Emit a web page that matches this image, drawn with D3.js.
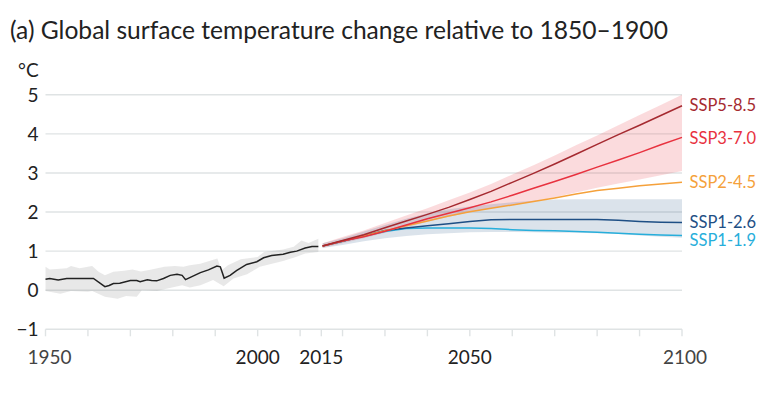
<!DOCTYPE html>
<html><head><meta charset="utf-8">
<script src="https://cdn.jsdelivr.net/npm/d3@7"></script>
<style>html,body{margin:0;padding:0;background:#fff}svg{display:block;font-family:Lato,sans-serif}</style>
</head><body><div id="chart"></div>
<script>
const yTicks=[-1,0,1,2,3,4,5];
const xTickYears=[1950,1960,1970,1980,1990,2000,2010,2015,2020,2030,2040,2050,2060,2070,2080,2090,2100];
const xLabels=[1950,2000,2015,2050,2100];
const histLine=[[1950,.28],[1951,.30],[1953,.26],[1955,.30],[1961.3,.30],[1964,.09],[1965,.12],[1966,.17],[1967.5,.18],[1970,.25],[1971.5,.25],[1972.3,.22],[1974,.27],[1975,.25],[1976.2,.24],[1977.8,.30],[1979.4,.38],[1981,.41],[1982.2,.38],[1983,.27],[1986.5,.45],[1988.4,.52],[1990.4,.62],[1991.2,.60],[1992.1,.31],[1993.5,.38],[1995,.50],[1997.4,.66],[1999.8,.73],[2001.4,.83],[2003.3,.89],[2006,.92],[2007.7,.97],[2009.2,1.0],[2011.2,1.08],[2012.8,1.12],[2014.3,1.12]];
const histUpper=[[1950,.60],[1951,.53],[1955,.56],[1956,.62],[1958,.56],[1961,.62],[1962.5,.47],[1964,.38],[1966,.47],[1968.5,.50],[1970.5,.53],[1972.5,.48],[1975,.53],[1978,.60],[1980.5,.62],[1982.5,.60],[1984,.64],[1986.5,.68],[1990.5,.81],[1991.5,.51],[1993,.64],[1996,.79],[2000,.85],[2001.5,.98],[2006,1.04],[2008.5,1.11],[2010.3,1.27],[2012,1.21],[2014.3,1.32]];
const histLower=[[1950,-.02],[1953.5,-.09],[1956,-.02],[1960,-.04],[1961,-.02],[1964,-.17],[1967,-.22],[1969,-.15],[1971.5,-.17],[1972.7,0],[1976.3,-.02],[1978.5,.04],[1982.2,.13],[1984,.07],[1986.5,.13],[1989.5,.26],[1992,.10],[1994.3,.30],[1997.5,.41],[2000.5,.60],[2006,.75],[2009,.85],[2011.2,.94],[2014.3,.98]];
const years=[2015.3,2020,2025,2030,2035,2040,2045,2050,2055,2060,2065,2070,2075,2080,2085,2090,2095,2100];
const ssp585=[1.13,1.27,1.42,1.60,1.77,1.94,2.12,2.32,2.53,2.76,2.99,3.23,3.48,3.73,3.98,4.22,4.47,4.72];
const ssp370=[1.13,1.26,1.37,1.51,1.67,1.83,1.97,2.11,2.26,2.43,2.61,2.78,2.96,3.15,3.33,3.52,3.72,3.91];
const ssp245=[1.13,1.26,1.39,1.52,1.65,1.77,1.90,2.01,2.10,2.18,2.27,2.36,2.46,2.55,2.61,2.67,2.72,2.76];
const ssp126=[1.13,1.25,1.39,1.53,1.59,1.65,1.70,1.76,1.80,1.81,1.81,1.81,1.81,1.81,1.79,1.76,1.74,1.73];
const ssp119=[1.13,1.25,1.38,1.50,1.58,1.59,1.59,1.59,1.58,1.55,1.53,1.52,1.50,1.48,1.46,1.43,1.41,1.40];
const pinkUpper=[1.20,1.36,1.53,1.72,1.91,2.10,2.30,2.50,2.72,2.96,3.20,3.45,3.71,3.96,4.22,4.48,4.74,5.00];
const pinkLower=[1.08,1.20,1.33,1.47,1.61,1.75,1.88,2.00,2.10,2.18,2.27,2.38,2.50,2.62,2.73,2.83,2.94,3.05];
const blueUpper=[1.20,1.33,1.50,1.67,1.83,1.97,2.07,2.14,2.20,2.25,2.29,2.32,2.33,2.33,2.33,2.33,2.33,2.33];
const blueLower=[1.08,1.16,1.25,1.33,1.39,1.43,1.46,1.48,1.49,1.49,1.48,1.47,1.47,1.46,1.44,1.40,1.37,1.34];
const seriesNames=["SSP5-8.5","SSP3-7.0","SSP2-4.5","SSP1-2.6","SSP1-1.9"];
const seriesData=[ssp585,ssp370,ssp245,ssp126,ssp119];
const seriesColors=["#a52a30","#e8323f","#f5a13b","#1e4f85","#27aedb"];
const labelY=[105,138,182,221.5,240];

const x=d3.scaleLinear().domain([1950,2100]).range([45.5,682]);
const y=d3.scaleLinear().domain([-1,5]).range([329.3,94.8]);
const svg=d3.select("#chart").append("svg").attr("width",768).attr("height",412);

svg.append("text").attr("x",10).attr("y",38.5).attr("font-size",24.6).attr("fill","#222")
  .text("(a) Global surface temperature change relative to 1850–1900");
svg.append("text").attr("x",18).attr("y",76.5).attr("font-size",19).attr("fill","#222").text("°C");

const gy=svg.append("g");
gy.selectAll("line").data(yTicks).join("line")
  .attr("x1",x(1950)).attr("x2",x(2100)).attr("y1",d=>y(d)).attr("y2",d=>y(d))
  .attr("stroke","#dfe3e4").attr("stroke-width",1.4);
gy.selectAll("text").data(yTicks).join("text")
  .attr("x",38.5).attr("y",d=>y(d)+7).attr("text-anchor","end").attr("font-size",19).attr("fill","#222")
  .text(d=>d<0?"−"+(-d):d);

const gx=svg.append("g");
gx.selectAll("line").data(xTickYears).join("line")
  .attr("x1",d=>x(d)).attr("x2",d=>x(d)).attr("y1",y(-1)).attr("y2",y(-1)+7)
  .attr("stroke","#dfe3e4").attr("stroke-width",1.4);
const labelAnchor=d=>d===1950?"start":d===2100?"end":"middle";
gx.selectAll("text").data(xLabels).join("text")
  .attr("x",d=>d===1950?x(d)-18:d===2100?x(d)+25:x(d)).attr("y",364).attr("font-size",19)
  .attr("text-anchor",labelAnchor).attr("fill",d=>(d===1950||d===2100)?"#444":"#222").text(d=>d);

const area=d3.area().x(d=>x(d[0])).y0(d=>y(d[1])).y1(d=>y(d[2]));
const line=d3.line().x(d=>x(d[0])).y(d=>y(d[1]));
const zip=(a,b)=>years.map((t,i)=>[t,a[i],b[i]]);

const histArea=[...histUpper.map(d=>[x(d[0]),y(d[1])]),...histLower.slice().reverse().map(d=>[x(d[0]),y(d[1])])];
svg.append("path").attr("d",d3.line()(histArea)+"Z").attr("fill","#8a8a8a").attr("fill-opacity",.2);
svg.append("path").attr("d",area(zip(pinkLower,pinkUpper))).attr("fill","#e8404c").attr("fill-opacity",.19);
svg.append("path").attr("d",area(zip(blueLower,blueUpper))).attr("fill","#1e4f85").attr("fill-opacity",.16);

svg.append("path").attr("d",line(histLine)).attr("fill","none").attr("stroke","#222").attr("stroke-width",1.5);
[4,3,2,1,0].forEach(i=>{
  svg.append("path").attr("d",line(years.map((t,k)=>[t,seriesData[i][k]])))
    .attr("fill","none").attr("stroke",seriesColors[i]).attr("stroke-width",1.5);
});
svg.selectAll("text.lab").data(seriesNames).join("text").attr("class","lab")
  .attr("x",689.5).attr("y",(d,i)=>labelY[i]+6).attr("font-size",16.5)
  .attr("fill",(d,i)=>seriesColors[i]).text(d=>d);
</script></body></html>
